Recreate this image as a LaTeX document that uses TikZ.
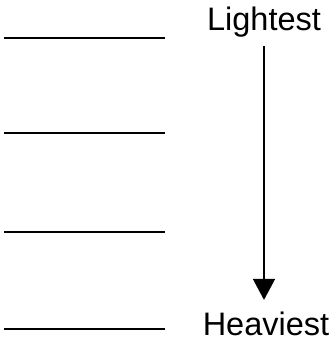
\documentclass[tikz,border=0pt]{standalone}
\usepackage{fontspec}
\setmainfont{Liberation Sans}
\usetikzlibrary{arrows.meta}

\begin{document}
\begin{tikzpicture}[x=1pt, y=-1pt]
    % Canvas
    \useasboundingbox (0,0) rectangle (333,346);

    % Layer lines
    \foreach \y in {38,133,232,329} {
        \draw[line width=1.6pt] (4,\y) -- (165,\y);
    }

    % Labels
    \node[font=\fontsize{32.5}{38}\selectfont, anchor=base] (lightest) at (264,30) {Lightest};
    \node[font=\fontsize{32.5}{38}\selectfont, anchor=base] (heaviest) at (266,335) {Heaviest};

    % Direction arrow
    \draw[-{Triangle[width=22pt, length=21pt]}, line width=1.6pt, shorten <=6pt, shorten >=8pt]
        (lightest.south) -- (lightest.south |- heaviest.north);
\end{tikzpicture}
\end{document}
